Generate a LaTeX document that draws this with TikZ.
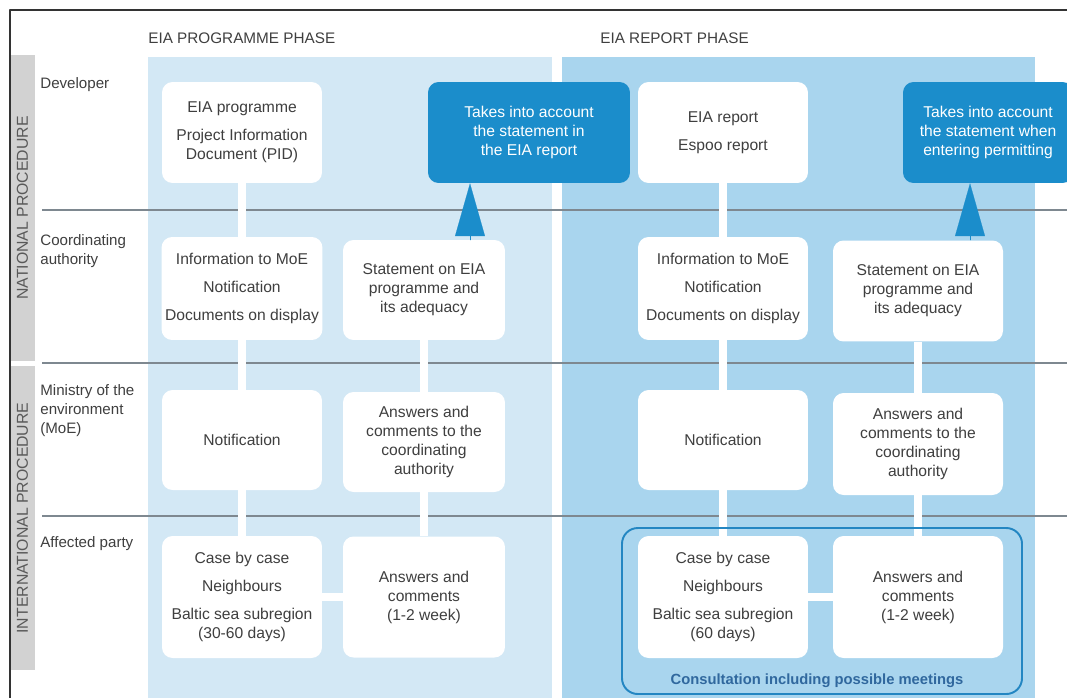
\documentclass[tikz,border=0pt]{standalone}
\usepackage{fontspec}
\setmainfont{Liberation Sans}
\usepackage{xcolor}
\usetikzlibrary{arrows.meta}
\definecolor{progblue}{HTML}{D3E8F5}
\definecolor{repblue}{HTML}{A9D5EE}
\definecolor{takeblue}{HTML}{1B8DCB}
\definecolor{consblue}{HTML}{2386C2}
\definecolor{constext}{HTML}{30689E}
\definecolor{rulegray}{HTML}{7E8890}
\definecolor{bargray}{HTML}{D2D2D2}
\definecolor{labelgray}{HTML}{3F3F3F}
\pgfdeclarelayer{bg}
\pgfdeclarelayer{links}
\pgfsetlayers{bg,links,main}
\tikzset{
  every picture/.style={line join=round, line cap=round, >=Stealth},
  box/.style={fill=white, rounded corners=6pt, align=center, inner sep=2pt, text=labelgray, font=\fontsize{8.9}{10.8}\selectfont},
  take/.style={box, fill=takeblue, text=white},
  link/.style={white, line width=4.5pt, line cap=butt},
  takeup/.style={takeblue, line width=0.1pt, -{Triangle[width=17pt,length=30pt]}},
  rowlabel/.style={anchor=north west, align=left, inner sep=0pt, text=labelgray, font=\fontsize{8.6}{11}\selectfont},
  phase/.style={anchor=west, inner sep=0pt, text=labelgray, font=\fontsize{8.7}{10}\selectfont},
  proctext/.style={rotate=90, inner sep=0pt, text=black!65, font=\fontsize{9}{10}\selectfont},
  sepline/.style={rulegray, line width=0.8pt},
  consframe/.style={consblue, line width=1.1pt, rounded corners=9pt},
}

\begin{document}
\begin{tikzpicture}[x=0.02cm,y=-0.02cm]
\useasboundingbox (0,0) rectangle (1067,697);
\begin{pgfonlayer}{bg}
\fill[white] (0,0) rectangle (1067,697);
\fill[progblue] (148,57) rectangle (552,700);
\fill[repblue] (562,57) rectangle (1035,700);
\fill[bargray] (10,55) rectangle (35,361);
\fill[bargray] (10,366) rectangle (35,670);
\foreach \y in {210,363,516}
  \draw[sepline] (42,\y) -- (1070,\y);
\end{pgfonlayer}
\draw[black!80, line width=0.8pt] (10,710) -- (10,10) -- (1080,10);

\node[proctext] (nat) at (22.5,208) {NATIONAL PROCEDURE};
\node[proctext] (intl) at (22.5,518) {INTERNATIONAL PROCEDURE};
\node[phase] (ph1) at (148,38) {EIA PROGRAMME PHASE};
\node[phase] (ph2) at (600,38) {EIA REPORT PHASE};

\node[rowlabel] (r1) at (40,77) {Developer};
\node[rowlabel] (r2) at (40,234) {Coordinating\\authority};
\node[rowlabel] (r3) at (40,384) {Ministry of the\\environment\\(MoE)};
\node[rowlabel] (r4) at (40,536) {Affected party};

% programme phase
\node[box, minimum width=3.2cm, minimum height=2.02cm] (dev1) at (242,132.5) {EIA programme\\[5pt]Project Information\\Document (PID)};
\node[box, minimum width=3.2cm, minimum height=2.06cm] (coord1) at (242,288.5) {Information to MoE\\[5pt]Notification\\[5pt]Documents on display};
\node[box, minimum width=3.2cm, minimum height=2cm] (moe1) at (242,440) {Notification};
\node[box, minimum width=3.2cm, minimum height=2.44cm] (aff1) at (242,597) {Case by case\\[5pt]Neighbours\\[5pt]Baltic sea subregion\\(30-60 days)};
\node[box, minimum width=3.24cm, minimum height=2cm] (stat1) at (424,290) {Statement on EIA\\programme and\\its adequacy};
\node[box, minimum width=3.24cm, minimum height=2cm] (ans1) at (424,442) {Answers and\\comments to the\\coordinating\\authority};
\node[box, minimum width=3.24cm, minimum height=2.42cm] (com1) at (424,597) {Answers and\\comments\\(1-2 week)};
\node[take, minimum width=4.04cm, minimum height=2.02cm] (take1) at (529,132.5) {Takes into account\\the statement in\\the EIA report};

% report phase
\node[box, minimum width=3.4cm, minimum height=2.02cm] (dev2) at (723,132.5) {EIA report\\[5pt]Espoo report};
\node[box, minimum width=3.4cm, minimum height=2.06cm] (coord2) at (723,288.5) {Information to MoE\\[5pt]Notification\\[5pt]Documents on display};
\node[box, minimum width=3.4cm, minimum height=2cm] (moe2) at (723,440) {Notification};
\node[box, minimum width=3.4cm, minimum height=2.44cm] (aff2) at (723,597) {Case by case\\[5pt]Neighbours\\[5pt]Baltic sea subregion\\(60 days)};
\node[box, minimum width=3.4cm, minimum height=2.02cm] (stat2) at (918,291) {Statement on EIA\\programme and\\its adequacy};
\node[box, minimum width=3.4cm, minimum height=2.04cm] (ans2) at (918,444) {Answers and\\comments to the\\coordinating\\authority};
\node[box, minimum width=3.4cm, minimum height=2.44cm] (com2) at (918,597) {Answers and\\comments\\(1-2 week)};
\node[take, minimum width=3.4cm, minimum height=2.02cm] (take2) at (988,132.5) {Takes into account\\the statement when\\entering permitting};

\draw[consframe] (622,528) rectangle (1022,694);
\node[font=\fontsize{8.4}{10}\bfseries, text=constext] (cons) at (817,681) {Consultation including possible meetings};

\begin{pgfonlayer}{links}
\foreach \a/\b in {dev1/coord1,coord1/moe1,moe1/aff1,stat1/ans1,ans1/com1,aff1/com1,
                   dev2/coord2,coord2/moe2,moe2/aff2,stat2/ans2,ans2/com2,aff2/com2}
  \draw[link] (\a) -- (\b);
\end{pgfonlayer}

\coordinate (tip1) at (470,240);
\coordinate (tip2) at (970,240);
\draw[takeup] (tip1) -- (tip1 |- take1.south);
\draw[takeup] (tip2) -- (tip2 |- take2.south);
\end{tikzpicture}
\end{document}
